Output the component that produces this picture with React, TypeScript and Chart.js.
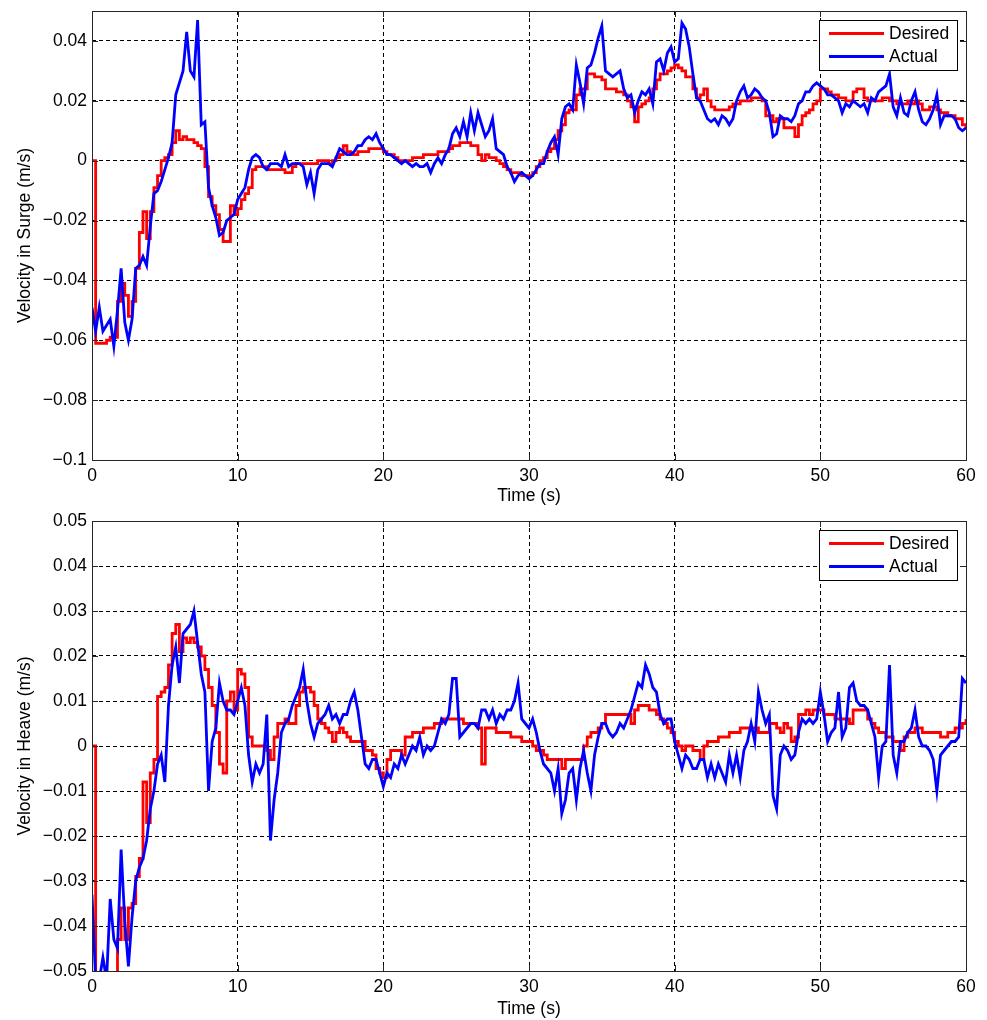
import React, { useEffect, useRef } from "react";
import { Chart, registerables } from "chart.js";

Chart.register(...registerables);

// sampling grid of the recorded signals (seconds)
const SAMPLE_STEP = 0.25;
const SAMPLE_COUNT = 241;
const TIME = Array.from({ length: SAMPLE_COUNT }, (_, i) => i * SAMPLE_STEP);

const X_TICKS = [0, 10, 20, 30, 40, 50, 60];
const X_TITLE = "Time (s)";

const SURGE_TICKS = [-0.1, -0.08, -0.06, -0.04, -0.02, 0, 0.02, 0.04];
const SURGE_TICK_LABELS = ["\u22120.1", "\u22120.08", "\u22120.06", "\u22120.04", "\u22120.02", "0", "0.02", "0.04"];
const HEAVE_TICKS = [-0.05, -0.04, -0.03, -0.02, -0.01, 0, 0.01, 0.02, 0.03, 0.04, 0.05];
const HEAVE_TICK_LABELS = ["\u22120.05", "\u22120.04", "\u22120.03", "\u22120.02", "\u22120.01", "0", "0.01", "0.02", "0.03", "0.04", "0.05"];

const SERIES_NAMES = ["Desired", "Actual"];

const SURGE_DESIRED = [
  0.000, -0.061, -0.061, -0.061, -0.060, -0.059, -0.059, -0.047,
  -0.041, -0.045, -0.052, -0.047, -0.036, -0.024, -0.017, -0.026,
  -0.017, -0.009, -0.005, 0.000, 0.001, 0.002, 0.006, 0.010,
  0.007, 0.008, 0.007, 0.007, 0.006, 0.005, 0.004, -0.002,
  -0.012, -0.015, -0.018, -0.023, -0.027, -0.027, -0.015, -0.018,
  -0.016, -0.013, -0.011, -0.009, -0.003, -0.002, -0.002, -0.002,
  -0.003, -0.003, -0.003, -0.003, -0.003, -0.004, -0.004, -0.002,
  -0.001, -0.001, -0.001, -0.001, -0.001, -0.001, 0.000, 0.000,
  0.000, -0.001, 0.000, 0.001, 0.002, 0.005, 0.003, 0.002,
  0.002, 0.003, 0.003, 0.003, 0.004, 0.004, 0.004, 0.004,
  0.003, 0.002, 0.002, 0.001, 0.000, 0.000, 0.000, 0.000,
  0.001, 0.001, 0.001, 0.002, 0.002, 0.002, 0.002, 0.003,
  0.003, 0.003, 0.004, 0.005, 0.005, 0.006, 0.006, 0.006,
  0.005, 0.005, 0.002, 0.000, 0.002, 0.001, 0.001, 0.000,
  -0.001, -0.002, -0.003, -0.004, -0.004, -0.004, -0.005, -0.005,
  -0.005, -0.004, -0.002, 0.000, 0.001, 0.003, 0.004, 0.007,
  0.010, 0.012, 0.016, 0.017, 0.017, 0.022, 0.024, 0.024,
  0.029, 0.029, 0.028, 0.028, 0.027, 0.024, 0.024, 0.024,
  0.023, 0.023, 0.022, 0.020, 0.018, 0.013, 0.018, 0.019,
  0.020, 0.021, 0.024, 0.027, 0.029, 0.029, 0.030, 0.031,
  0.032, 0.031, 0.030, 0.028, 0.028, 0.024, 0.021, 0.022,
  0.024, 0.020, 0.018, 0.017, 0.017, 0.017, 0.017, 0.018,
  0.019, 0.019, 0.020, 0.020, 0.020, 0.021, 0.021, 0.021,
  0.020, 0.015, 0.015, 0.013, 0.014, 0.014, 0.011, 0.011,
  0.011, 0.008, 0.012, 0.015, 0.016, 0.017, 0.019, 0.020,
  0.024, 0.024, 0.023, 0.022, 0.022, 0.021, 0.021, 0.020,
  0.020, 0.023, 0.024, 0.024, 0.021, 0.020, 0.020, 0.020,
  0.020, 0.021, 0.021, 0.020, 0.020, 0.019, 0.019, 0.019,
  0.020, 0.019, 0.020, 0.019, 0.017, 0.017, 0.018, 0.018,
  0.017, 0.016, 0.016, 0.015, 0.015, 0.014, 0.014, 0.012,
  0.011,
];

const SURGE_ACTUAL = [
  -0.049, -0.057, -0.049, -0.057, -0.055, -0.053, -0.062, -0.050,
  -0.036, -0.054, -0.060, -0.053, -0.036, -0.035, -0.032, -0.035,
  -0.022, -0.011, -0.010, -0.007, -0.003, 0.001, 0.006, 0.022,
  0.026, 0.030, 0.043, 0.030, 0.028, 0.047, 0.012, 0.013,
  -0.009, -0.015, -0.019, -0.025, -0.024, -0.020, -0.019, -0.018,
  -0.013, -0.011, -0.009, -0.003, 0.001, 0.002, 0.001, -0.002,
  -0.003, -0.001, -0.001, -0.001, -0.002, 0.002, -0.002, -0.001,
  -0.001, -0.001, -0.002, -0.008, -0.004, -0.011, -0.003, -0.001,
  -0.001, -0.001, -0.002, 0.001, 0.004, 0.003, 0.002, 0.002,
  0.003, 0.005, 0.005, 0.007, 0.008, 0.007, 0.009, 0.006,
  0.004, 0.002, 0.002, 0.001, 0.000, -0.001, 0.000, -0.001,
  -0.002, -0.001, -0.002, -0.002, -0.001, -0.004, -0.001, 0.001,
  -0.001, 0.002, 0.004, 0.009, 0.011, 0.008, 0.013, 0.008,
  0.016, 0.010, 0.016, 0.012, 0.008, 0.010, 0.014, 0.004,
  0.003, 0.002, -0.002, -0.004, -0.007, -0.005, -0.004, -0.005,
  -0.006, -0.005, -0.003, -0.001, -0.001, 0.003, 0.006, 0.008,
  0.002, 0.014, 0.018, 0.019, 0.017, 0.032, 0.026, 0.019,
  0.031, 0.032, 0.036, 0.041, 0.045, 0.030, 0.029, 0.028,
  0.029, 0.030, 0.024, 0.021, 0.022, 0.016, 0.020, 0.023,
  0.022, 0.024, 0.019, 0.033, 0.034, 0.030, 0.036, 0.038,
  0.033, 0.034, 0.046, 0.044, 0.038, 0.029, 0.021, 0.020,
  0.017, 0.014, 0.013, 0.014, 0.012, 0.015, 0.014, 0.012,
  0.014, 0.020, 0.023, 0.025, 0.021, 0.022, 0.024, 0.023,
  0.021, 0.020, 0.016, 0.008, 0.009, 0.015, 0.014, 0.014,
  0.013, 0.015, 0.019, 0.020, 0.023, 0.023, 0.025, 0.026,
  0.025, 0.024, 0.022, 0.022, 0.021, 0.020, 0.016, 0.019,
  0.018, 0.020, 0.019, 0.018, 0.019, 0.016, 0.021, 0.020,
  0.023, 0.024, 0.025, 0.029, 0.018, 0.015, 0.021, 0.016,
  0.015, 0.020, 0.023, 0.017, 0.013, 0.012, 0.014, 0.017,
  0.022, 0.012, 0.015, 0.015, 0.015, 0.014, 0.011, 0.010,
  0.011,
];

const HEAVE_DESIRED = [
  0.000, -0.060, -0.060, -0.060, -0.060, -0.060, -0.060, -0.043,
  -0.036, -0.043, -0.036, -0.035, -0.029, -0.025, -0.008, -0.017,
  -0.006, -0.003, 0.011, 0.012, 0.013, 0.018, 0.025, 0.027,
  0.021, 0.024, 0.023, 0.024, 0.023, 0.022, 0.020, 0.017,
  0.013, 0.009, 0.003, -0.004, -0.006, 0.010, 0.012, 0.008,
  0.017, 0.016, 0.013, 0.002, 0.000, 0.000, 0.000, 0.000,
  -0.001, -0.003, 0.002, 0.005, 0.005, 0.006, 0.005, 0.005,
  0.009, 0.012, 0.013, 0.013, 0.012, 0.009, 0.006, 0.005,
  0.004, 0.003, 0.001, 0.003, 0.004, 0.003, 0.002, 0.001,
  0.001, 0.001, 0.001, -0.001, -0.001, -0.002, -0.005, -0.006,
  -0.007, -0.003, -0.001, -0.001, -0.001, -0.002, 0.002, 0.002,
  0.003, 0.003, 0.003, 0.004, 0.004, 0.004, 0.005, 0.005,
  0.006, 0.006, 0.006, 0.006, 0.006, 0.006, 0.005, 0.005,
  0.005, 0.005, 0.004, -0.004, 0.004, 0.004, 0.004, 0.003,
  0.003, 0.003, 0.003, 0.002, 0.002, 0.002, 0.001, 0.001,
  0.001, 0.000, -0.001, -0.001, -0.002, -0.003, -0.003, -0.003,
  -0.003, -0.005, -0.003, -0.003, -0.003, -0.003, -0.003, 0.000,
  0.002, 0.003, 0.003, 0.004, 0.005, 0.007, 0.007, 0.007,
  0.007, 0.007, 0.007, 0.007, 0.005, 0.008, 0.009, 0.009,
  0.009, 0.008, 0.008, 0.007, 0.006, 0.005, 0.004, 0.003,
  0.001, 0.000, -0.001, 0.000, 0.000, -0.001, -0.001, -0.003,
  0.000, 0.001, 0.001, 0.001, 0.002, 0.002, 0.002, 0.003,
  0.003, 0.003, 0.004, 0.004, 0.004, 0.004, 0.004, 0.003,
  0.003, 0.003, 0.005, 0.005, 0.004, 0.003, 0.005, 0.004,
  0.001, 0.002, 0.007, 0.007, 0.008, 0.007, 0.008, 0.008,
  0.008, 0.007, 0.007, 0.007, 0.006, 0.006, 0.006, 0.006,
  0.005, 0.008, 0.008, 0.008, 0.008, 0.006, 0.005, 0.004,
  0.003, 0.003, 0.002, 0.002, 0.001, 0.001, -0.001, 0.002,
  0.003, 0.003, 0.004, 0.004, 0.003, 0.003, 0.003, 0.003,
  0.003, 0.002, 0.002, 0.003, 0.003, 0.004, 0.004, 0.005,
  0.006,
];

const HEAVE_ACTUAL = [
  -0.033, -0.052, -0.052, -0.047, -0.052, -0.034, -0.043, -0.045,
  -0.023, -0.039, -0.049, -0.038, -0.030, -0.027, -0.025, -0.021,
  -0.014, -0.010, -0.004, -0.002, -0.008, 0.009, 0.018, 0.022,
  0.014, 0.025, 0.026, 0.027, 0.030, 0.023, 0.016, 0.012,
  -0.010, 0.001, 0.004, 0.014, 0.010, 0.008, 0.008, 0.007,
  0.010, 0.013, 0.009, -0.002, -0.008, -0.004, -0.006, -0.004,
  0.007, -0.021, -0.012, -0.006, 0.003, 0.005, 0.006, 0.009,
  0.011, 0.013, 0.017, 0.010, 0.005, 0.002, 0.005, 0.006,
  0.007, 0.009, 0.006, 0.007, 0.005, 0.007, 0.007, 0.010,
  0.012, 0.008, 0.002, -0.004, -0.005, -0.003, -0.003, -0.006,
  -0.009, -0.006, -0.007, -0.004, -0.005, -0.002, -0.004, -0.002,
  0.000, -0.001, 0.002, -0.002, 0.000, -0.001, 0.000, 0.003,
  0.006, 0.005, 0.007, 0.015, 0.015, 0.002, 0.003, 0.004,
  0.005, 0.005, 0.004, 0.008, 0.008, 0.006, 0.008, 0.005,
  0.007, 0.006, 0.008, 0.008, 0.010, 0.014, 0.006, 0.005,
  0.004, 0.006, 0.003, -0.001, -0.004, -0.005, -0.006, -0.010,
  -0.005, -0.015, -0.012, -0.006, -0.005, -0.012, -0.005, -0.001,
  -0.006, -0.010, -0.002, 0.002, 0.005, 0.005, 0.003, 0.002,
  0.003, 0.005, 0.004, 0.006, 0.008, 0.011, 0.014, 0.013,
  0.018, 0.016, 0.013, 0.012, 0.007, 0.005, 0.006, 0.006,
  0.001, -0.002, -0.005, -0.002, -0.003, -0.005, -0.005, -0.003,
  -0.003, -0.007, -0.004, -0.007, -0.004, -0.006, -0.008, -0.002,
  -0.006, -0.002, -0.007, -0.001, 0.001, 0.005, 0.001, 0.012,
  0.008, 0.005, 0.007, -0.011, -0.014, -0.002, 0.000, -0.001,
  -0.003, -0.002, 0.003, 0.006, 0.005, 0.006, 0.005, 0.006,
  0.012, 0.007, 0.001, 0.003, 0.004, 0.012, 0.002, 0.004,
  0.013, 0.014, 0.010, 0.009, 0.009, 0.008, 0.005, 0.002,
  -0.007, 0.000, 0.001, 0.018, -0.002, -0.006, 0.001, 0.001,
  0.003, 0.004, 0.008, 0.002, 0.000, 0.000, -0.001, -0.003,
  -0.010, -0.002, -0.001, 0.000, 0.001, 0.001, 0.002, 0.015,
  0.014,
];

const FONT_FAMILY = "'Liberation Sans', Arial, Helvetica, sans-serif";
const FONT_SIZE = 17.5;
const RED = "#ff0000";
const BLUE = "#0000ff";
const FRAME = "#262626";

const CANVAS_W = 987;
const CANVAS_H = 510;

function toPoints(values: number[]) {
  return TIME.map((t, i) => ({ x: t, y: values[i] }));
}

const framePlugin = {
  id: "matlabFrame",
  afterDatasetsDraw(chart: any) {
    const { ctx, chartArea, scales } = chart;
    const { left, right, top, bottom } = chartArea;
    const px = (v: number) => Math.round(v) + 0.5;
    ctx.save();
    ctx.strokeStyle = FRAME;
    ctx.lineWidth = 1;
    ctx.setLineDash([]);
    ctx.beginPath();
    const tl = 6;
    for (const v of X_TICKS) {
      const x = px(scales.x.getPixelForValue(v));
      ctx.moveTo(x, bottom);
      ctx.lineTo(x, bottom - tl);
      ctx.moveTo(x, top);
      ctx.lineTo(x, top + tl);
    }
    for (const t of scales.y.ticks) {
      const y = px(scales.y.getPixelForValue(t.value));
      ctx.moveTo(left, y);
      ctx.lineTo(left + tl, y);
      ctx.moveTo(right, y);
      ctx.lineTo(right - tl, y);
    }
    ctx.stroke();
    ctx.strokeRect(px(left), px(top), Math.round(right - left), Math.round(bottom - top));

    // legend box (north-east, inside axes)
    const bx = Math.round(right - 147) + 0.5;
    const by = Math.round(top + 9) + 0.5;
    const bw = 138;
    const bh = 50;
    ctx.fillStyle = "#ffffff";
    ctx.fillRect(bx, by, bw, bh);
    ctx.strokeStyle = "#000000";
    ctx.strokeRect(bx, by, bw, bh);
    const rows = [
      { label: SERIES_NAMES[0], color: RED, y: top + 22.5 },
      { label: SERIES_NAMES[1], color: BLUE, y: top + 45.5 },
    ];
    ctx.font = `${FONT_SIZE}px ${FONT_FAMILY}`;
    ctx.textBaseline = "middle";
    ctx.textAlign = "left";
    for (const r of rows) {
      ctx.strokeStyle = r.color;
      ctx.lineWidth = 2.8;
      ctx.beginPath();
      ctx.moveTo(right - 137, r.y);
      ctx.lineTo(right - 82, r.y);
      ctx.stroke();
      ctx.fillStyle = "#000000";
      ctx.fillText(r.label, right - 77, r.y + 1);
    }
    ctx.restore();
  },
};

type PanelProps = {
  desired: number[];
  actual: number[];
  yMin: number;
  yMax: number;
  yTicks: number[];
  yLabels: string[];
  yTitle: string;
  top: number;
  padTop: number;
  xAxisHeight: number;
  xTitlePad: number;
};

function Panel(props: PanelProps) {
  const ref = useRef<HTMLCanvasElement>(null);
  useEffect(() => {
    const font = { family: FONT_FAMILY, size: FONT_SIZE };
    const chart = new Chart(ref.current as HTMLCanvasElement, {
      type: "line",
      data: {
        datasets: [
          {
            label: SERIES_NAMES[0],
            data: toPoints(props.desired),
            borderColor: RED,
            backgroundColor: RED,
            borderWidth: 2.8,
            pointRadius: 0,
            stepped: true,
            fill: false,
            order: 1,
          },
          {
            label: SERIES_NAMES[1],
            data: toPoints(props.actual),
            borderColor: BLUE,
            backgroundColor: BLUE,
            borderWidth: 2.8,
            pointRadius: 0,
            tension: 0,
            fill: false,
            order: 0,
          },
        ],
      },
      options: {
        responsive: false,
        animation: false,
        events: [],
        layout: { padding: { left: 0, top: props.padTop, right: 21, bottom: 0 } },
        plugins: { legend: { display: false }, tooltip: { enabled: false } },
        scales: {
          x: {
            type: "linear",
            min: 0,
            max: 60,
            afterBuildTicks: (ax: any) => {
              ax.ticks = X_TICKS.map((v) => ({ value: v }));
            },
            afterFit: (ax: any) => {
              ax.height = props.xAxisHeight;
              ax.paddingLeft = 0;
              ax.paddingRight = 0;
            },
            ticks: {
              font,
              color: "#000",
              padding: 6,
              maxRotation: 0,
              autoSkip: false,
              callback: (v: any) => String(v),
            },
            grid: { color: "#000", lineWidth: 1, drawTicks: false },
            border: { display: false, dash: [4, 3] },
            title: {
              display: true,
              text: X_TITLE,
              font,
              color: "#000",
              padding: { top: 0, bottom: props.xTitlePad },
            },
          },
          y: {
            type: "linear",
            min: props.yMin,
            max: props.yMax,
            afterBuildTicks: (ax: any) => {
              ax.ticks = props.yTicks.map((v) => ({ value: v }));
            },
            afterFit: (ax: any) => {
              ax.width = 92;
              ax.paddingTop = 0;
              ax.paddingBottom = 0;
            },
            ticks: {
              font,
              color: "#000",
              padding: 5,
              autoSkip: false,
              callback: (_v: any, i: number) => props.yLabels[i],
            },
            grid: { color: "#000", lineWidth: 1, drawTicks: false },
            border: { display: false, dash: [4, 3] },
            title: {
              display: true,
              text: props.yTitle,
              font,
              color: "#000",
              padding: { top: 15, bottom: 0 },
            },
          },
        },
      },
      plugins: [framePlugin],
    } as any);
    return () => chart.destroy();
  }, []);
  return (
    <canvas
      ref={ref}
      width={CANVAS_W}
      height={CANVAS_H}
      style={{ position: "absolute", left: 0, top: props.top, display: "block" }}
    />
  );
}

export default function App() {
  return (
    <div
      style={{
        position: "absolute",
        left: 0,
        top: 0,
        width: CANVAS_W,
        height: 1020,
        background: "#ffffff",
      }}
    >
      <Panel
        desired={SURGE_DESIRED}
        actual={SURGE_ACTUAL}
        yMin={-0.1}
        yMax={0.05}
        yTicks={SURGE_TICKS}
        yLabels={SURGE_TICK_LABELS}
        yTitle="Velocity in Surge (m/s)"
        top={0}
        padTop={11}
        xAxisHeight={50}
        xTitlePad={3}
      />
      <Panel
        desired={HEAVE_DESIRED}
        actual={HEAVE_ACTUAL}
        yMin={-0.05}
        yMax={0.05}
        yTicks={HEAVE_TICKS}
        yLabels={HEAVE_TICK_LABELS}
        yTitle="Velocity in Heave (m/s)"
        top={510}
        padTop={11}
        xAxisHeight={49}
        xTitlePad={0}
      />
    </div>
  );
}
